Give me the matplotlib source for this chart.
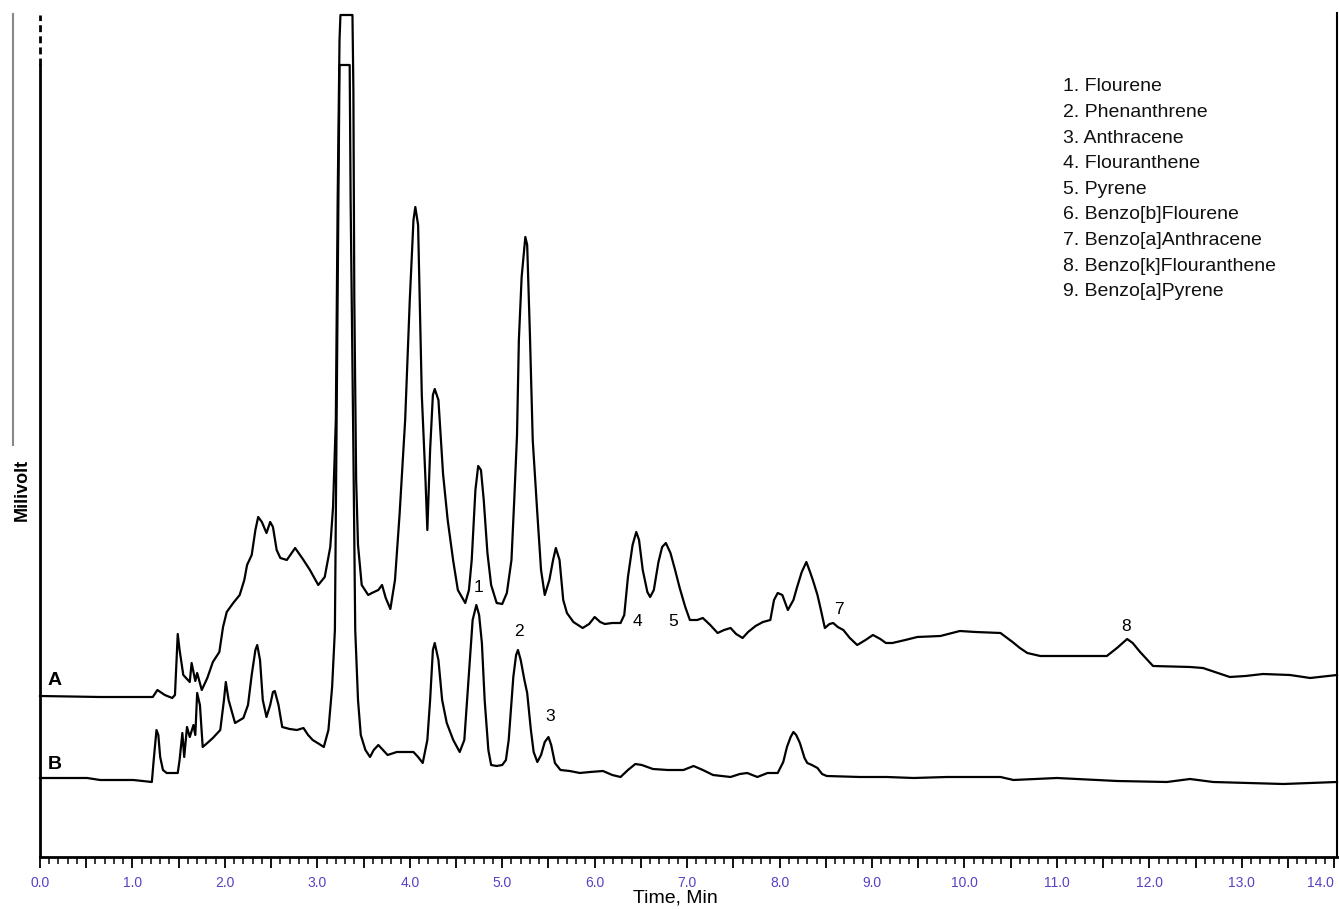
#HPLC chromatogram of PAH standards, traces A and B
import matplotlib
matplotlib.use("Agg")
import matplotlib.pyplot as plt
from matplotlib.ticker import MultipleLocator
from matplotlib.lines import Line2D

plt.rcParams['font.family'] = ['Liberation Sans', 'DejaVu Sans']

#trace A: time (min) and signal (mV)
time_a = [0.00, 0.65, 1.22, 1.27, 1.35, 1.43, 1.46, 1.49, 1.51, 1.55, 1.62, 1.64, 1.68, 1.70, 1.75, 1.81,
	1.87, 1.94, 1.98, 2.02, 2.09, 2.16, 2.21, 2.24, 2.29, 2.33, 2.36, 2.40, 2.45, 2.49, 2.52, 2.56,
	2.60, 2.67, 2.76, 2.85, 2.92, 3.01, 3.08, 3.14, 3.17, 3.20, 3.22, 3.24, 3.25, 3.38, 3.39, 3.40,
	3.42, 3.44, 3.48, 3.55, 3.59, 3.66, 3.70, 3.74, 3.79, 3.84, 3.89, 3.95, 4.00, 4.04, 4.06, 4.09,
	4.13, 4.17, 4.19, 4.22, 4.25, 4.27, 4.31, 4.36, 4.41, 4.47, 4.52, 4.60, 4.64, 4.67, 4.71, 4.74,
	4.77, 4.80, 4.84, 4.88, 4.94, 5.00, 5.05, 5.10, 5.13, 5.16, 5.18, 5.21, 5.25, 5.27, 5.30, 5.33,
	5.38, 5.42, 5.46, 5.51, 5.55, 5.58, 5.62, 5.66, 5.70, 5.77, 5.82, 5.87, 5.94, 6.00, 6.06, 6.11,
	6.19, 6.28, 6.32, 6.36, 6.41, 6.45, 6.48, 6.52, 6.57, 6.60, 6.64, 6.69, 6.73, 6.77, 6.82, 6.87,
	6.92, 6.98, 7.03, 7.11, 7.17, 7.25, 7.33, 7.40, 7.47, 7.53, 7.60, 7.66, 7.74, 7.82, 7.90, 7.94,
	7.98, 8.03, 8.09, 8.15, 8.19, 8.24, 8.29, 8.33, 8.36, 8.41, 8.44, 8.49, 8.54, 8.58, 8.63, 8.69,
	8.76, 8.84, 8.93, 9.01, 9.09, 9.15, 9.22, 9.36, 9.49, 9.74, 9.95, 10.12, 10.39, 10.52, 10.60, 10.68,
	10.82, 11.25, 11.54, 11.65, 11.76, 11.82, 11.90, 12.04, 12.44, 12.58, 12.71, 12.87, 13.04, 13.23, 13.52, 13.74,
	14.03]
signal_a = [161, 160, 160, 167, 162, 159, 162, 223, 207, 182, 175, 194, 176, 184, 167, 179,
	195, 205, 230, 245, 254, 262, 277, 292, 302, 327, 340, 335, 324, 335, 330, 307,
	299, 297, 309, 297, 287, 272, 280, 310, 350, 437, 657, 817, 842, 842, 767, 557,
	377, 312, 272, 262, 264, 267, 272, 259, 248, 277, 343, 437, 557, 637, 650, 632,
	462, 377, 327, 407, 462, 468, 457, 383, 337, 296, 267, 254, 267, 297, 367, 391,
	387, 357, 304, 272, 254, 253, 264, 297, 357, 422, 517, 580, 620, 612, 521, 417,
	343, 287, 262, 277, 297, 309, 297, 257, 244, 235, 232, 229, 233, 240, 235, 233,
	234, 234, 242, 280, 312, 325, 317, 287, 265, 260, 267, 295, 310, 314, 304, 287,
	269, 250, 237, 237, 239, 232, 224, 227, 229, 223, 219, 225, 231, 235, 237, 257,
	264, 262, 247, 257, 270, 285, 295, 285, 277, 262, 250, 229, 233, 234, 230, 227,
	219, 212, 217, 222, 218, 214, 214, 217, 220, 221, 226, 225, 224, 215, 209, 204,
	201, 201, 201, 209, 218, 214, 205, 191, 190, 189, 185, 180, 181, 183, 182, 179,
	182]

#trace B: time (min) and signal (mV)
time_b = [0.00, 0.51, 0.65, 1.01, 1.21, 1.23, 1.26, 1.28, 1.30, 1.33, 1.37, 1.49, 1.51, 1.54, 1.56, 1.59,
	1.62, 1.66, 1.68, 1.70, 1.73, 1.76, 1.81, 1.87, 1.95, 1.99, 2.01, 2.04, 2.11, 2.20, 2.25, 2.29,
	2.33, 2.35, 2.38, 2.41, 2.45, 2.49, 2.52, 2.54, 2.58, 2.62, 2.70, 2.78, 2.85, 2.90, 2.95, 3.02,
	3.07, 3.12, 3.16, 3.19, 3.21, 3.24, 3.35, 3.36, 3.39, 3.41, 3.44, 3.47, 3.52, 3.57, 3.61, 3.66,
	3.71, 3.76, 3.86, 3.95, 4.04, 4.09, 4.14, 4.19, 4.22, 4.25, 4.27, 4.31, 4.35, 4.40, 4.47, 4.54,
	4.59, 4.62, 4.65, 4.68, 4.72, 4.75, 4.78, 4.81, 4.85, 4.88, 4.94, 5.00, 5.04, 5.07, 5.12, 5.15,
	5.17, 5.20, 5.24, 5.27, 5.31, 5.34, 5.38, 5.42, 5.46, 5.50, 5.53, 5.57, 5.63, 5.73, 5.84, 5.95,
	6.09, 6.19, 6.28, 6.36, 6.44, 6.51, 6.63, 6.79, 6.96, 7.07, 7.17, 7.28, 7.47, 7.57, 7.65, 7.76,
	7.87, 7.98, 8.04, 8.08, 8.12, 8.15, 8.18, 8.22, 8.27, 8.30, 8.35, 8.41, 8.46, 8.51, 8.87, 9.16,
	9.45, 9.81, 10.39, 10.53, 11.00, 11.65, 12.19, 12.44, 12.69, 13.45, 14.03]
signal_b = [79, 79, 77, 77, 75, 97, 127, 122, 100, 87, 84, 84, 97, 124, 100, 130,
	120, 132, 122, 164, 152, 110, 114, 119, 127, 157, 175, 157, 134, 139, 152, 182,
	207, 212, 197, 157, 140, 152, 165, 166, 152, 130, 128, 127, 129, 122, 117, 113,
	110, 127, 170, 227, 457, 792, 792, 657, 407, 227, 157, 122, 107, 100, 107, 112,
	107, 102, 105, 105, 105, 100, 94, 117, 157, 207, 214, 197, 157, 134, 117, 105,
	117, 157, 197, 237, 252, 242, 214, 157, 107, 92, 91, 92, 97, 117, 180, 202,
	207, 197, 177, 164, 127, 105, 95, 102, 115, 120, 112, 94, 87, 86, 84, 85,
	86, 82, 80, 87, 93, 92, 88, 87, 87, 91, 87, 82, 80, 83, 84, 80,
	84, 84, 95, 110, 120, 125, 122, 114, 99, 94, 92, 89, 83, 81, 80, 80,
	79, 80, 80, 77, 79, 76, 75, 78, 75, 73, 75]

#peak numbers placed above the peaks
peak_names = ["1", "2", "3", "4", "5", "7", "8"]
peak_times = [4.74, 5.18, 5.52, 6.46, 6.85, 8.64, 11.75]
peak_heights = [269, 225, 140, 235, 235, 247, 230]

compounds = ["1. Flourene", "2. Phenanthrene", "3. Anthracene", "4. Flouranthene", "5. Pyrene",
	"6. Benzo[b]Flourene", "7. Benzo[a]Anthracene", "8. Benzo[k]Flouranthene", "9. Benzo[a]Pyrene"]

fig = plt.figure(figsize=(13.39, 9.09), dpi=100)
ax = fig.add_axes([0.02987, 0.05721, 0.96864, 0.92849])

ax.plot(time_a, signal_a, color="black", lw=1.6, clip_on=False)
ax.plot(time_b, signal_b, color="black", lw=1.6, clip_on=False)

ax.set_xlim(0, 14.03)
ax.set_ylim(0, 844)

#axis frame: no top, left drawn by hand (dashed part at the top)
ax.spines["top"].set_visible(False)
ax.spines["left"].set_visible(False)
ax.spines["bottom"].set_linewidth(2)
ax.spines["right"].set_linewidth(1.5)
ax.plot([0, 0], [0, 792], color="black", lw=2, clip_on=False)
ax.plot([0, 0], [792, 842], color="black", lw=2, ls=(0, (2.5, 1.5)), clip_on=False)

ax.set_yticks([])
ax.xaxis.set_minor_locator(MultipleLocator(0.1))
ax.set_xticks([i * 0.5 for i in range(29)])
ax.set_xticklabels(["%.1f" % (i * 0.5) if i % 2 == 0 else "" for i in range(29)])
ax.tick_params(axis="x", which="major", direction="out", length=8, width=1.3,
	labelsize=10, labelcolor="#5b3fc4", pad=6)
ax.tick_params(axis="x", which="minor", direction="out", length=5, width=1.1)
#last label sits left of its tick so it stays inside the picture
ax.get_xticklabels()[-1].set_horizontalalignment("right")

fig.text(675 / 1339, 1 - 898 / 909, "Time, Min", fontsize=14, ha="center", va="center")
fig.text(0.0165, 0.461, "Milivolt", rotation=90, fontsize=13, fontweight="bold",
	ha="center", va="center")

#thin grey line at the left border of the original image
fig.add_artist(Line2D([13 / 1339, 13 / 1339], [1 - 14 / 909, 1 - 445 / 909],
	color="#888888", lw=1.5))

ax.text(0.16, 176, "A", fontsize=14, fontweight="bold", ha="center", va="center")
ax.text(0.16, 92.5, "B", fontsize=14, fontweight="bold", ha="center", va="center")

for name, t, h in zip(peak_names, peak_times, peak_heights):
	ax.text(t, h, name, fontsize=12.5, ha="center", va="center")

for i, name in enumerate(compounds):
	ax.text(11.07, 770 - i * 25.6, name, fontsize=14, ha="left", va="center", color="#111111")

plt.savefig("out.png", dpi=100)
plt.close()
